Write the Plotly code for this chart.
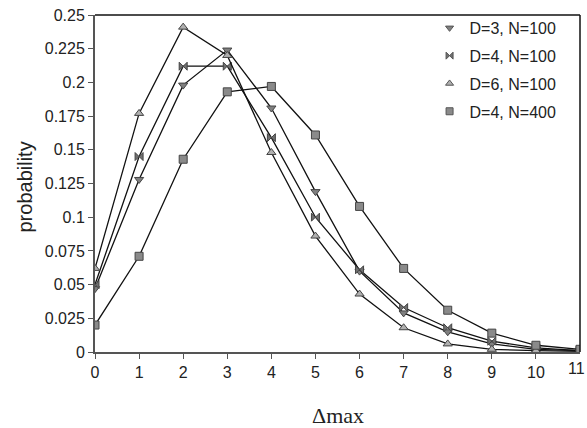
import plotly.graph_objects as go

x_vals = list(range(12))
d3_n100 = [0.047, 0.128, 0.198, 0.224, 0.181, 0.119, 0.060, 0.029, 0.015, 0.006, 0.002, 0.001]
d4_n100 = [0.050, 0.145, 0.212, 0.212, 0.159, 0.100, 0.061, 0.033, 0.018, 0.008, 0.003, 0.001]
d6_n100 = [0.062, 0.177, 0.241, 0.220, 0.148, 0.086, 0.043, 0.018, 0.006, 0.002, 0.001, 0.0005]
d4_n400 = [0.020, 0.071, 0.143, 0.193, 0.197, 0.161, 0.108, 0.062, 0.031, 0.014, 0.005, 0.002]

series_names = ["D=3, N=100", "D=4, N=100", "D=6, N=100", "D=4, N=400"]
series_data = [d3_n100, d4_n100, d6_n100, d4_n400]
symbols = ["triangle-down", "bowtie", "triangle-up", "square"]
fills = ["#808080", "#707070", "#b0b0b0", "#8a8a8a"]

y_ticks = [0, 0.025, 0.05, 0.075, 0.1, 0.125, 0.15, 0.175, 0.2, 0.225, 0.25]
y_labels = ["0", "0.025", "0.05", "0.075", "0.1", "0.125", "0.15", "0.175", "0.2", "0.225", "0.25"]
x_labels = [str(v) for v in x_vals]

fig = go.Figure()
for name, data, sym, fc in zip(series_names, series_data, symbols, fills):
    fig.add_trace(go.Scatter(
        x=x_vals, y=data, name=name, mode="lines+markers", showlegend=False,
        line=dict(color="#111111", width=1.3),
        marker=dict(symbol=sym, size=8, color=fc, line=dict(color="#444444", width=1)),
    ))
# legend entries: marker only, each in its own group for row spacing
for i, (name, sym, fc) in enumerate(zip(series_names, symbols, fills)):
    fig.add_trace(go.Scatter(
        x=[None], y=[None], name=name, mode="markers", legendgroup=f"g{i}",
        marker=dict(symbol=sym, size=7, color=fc, line=dict(color="#555555", width=1)),
    ))

fig.update_layout(
    width=587, height=428,
    margin=dict(l=95, r=7, t=12, b=76),
    plot_bgcolor="white", paper_bgcolor="white",
    font=dict(family="Liberation Sans, Arial, sans-serif", size=16, color="#222222"),
    showlegend=True,
    legend=dict(x=0.962, y=1.012, xanchor="right", yanchor="top",
                bgcolor="rgba(0,0,0,0)", font=dict(size=16), tracegroupgap=4,
                itemwidth=30),
    shapes=[
        dict(type="line", xref="paper", yref="paper", x0=0, x1=1, y0=1, y1=1,
             line=dict(color="#111111", width=1.5)),
        dict(type="line", xref="paper", yref="paper", x0=1, x1=1, y0=0, y1=1,
             line=dict(color="#111111", width=1.5)),
    ],
    annotations=[
        dict(x=11, y=0, xref="x", yref="paper", text=x_labels[-1], showarrow=False,
             xanchor="right", yanchor="top", xshift=7, yshift=-6,
             font=dict(size=16, color="#222222")),
        dict(x=0.5, y=0, xref="paper", yref="paper", text="Δmax", showarrow=False,
             xanchor="center", yanchor="middle", yshift=-63,
             font=dict(family="Liberation Serif, Times New Roman, serif", size=22, color="#222222")),
        dict(x=0, y=0.5, xref="paper", yref="paper", text="probability", showarrow=False,
             textangle=-90, xanchor="center", yanchor="middle", xshift=-71, yshift=-4,
             font=dict(size=20, color="#222222")),
    ],
)
fig.update_xaxes(
    range=[0, 11], tickmode="array", tickvals=x_vals[:-1], ticktext=x_labels[:-1],
    showgrid=False, zeroline=False, showline=True, linecolor="#555555", linewidth=2,
    ticks="outside", ticklen=5, tickcolor="#555555",
)
fig.update_yaxes(
    range=[0, 0.25], tickmode="array", tickvals=y_ticks, ticktext=y_labels,
    showgrid=False, zeroline=False, showline=True, linecolor="#555555", linewidth=2,
    ticks="outside", ticklen=5, tickcolor="#555555",
)

fig.write_html("out.html")
